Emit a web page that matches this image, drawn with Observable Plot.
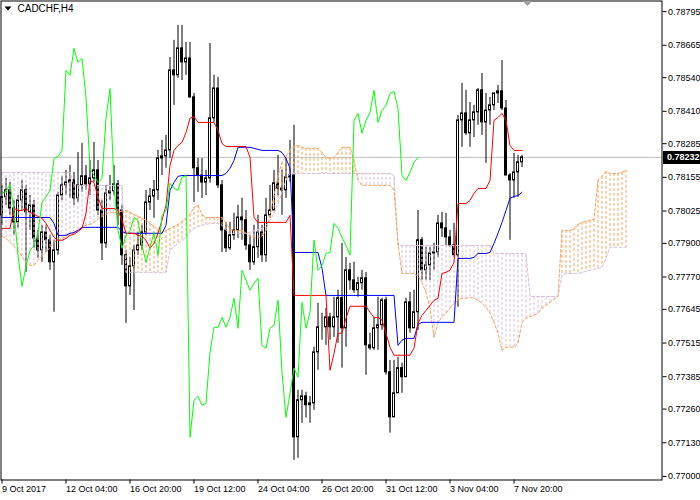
<!DOCTYPE html>
<html><head><meta charset="utf-8">
<script src="https://cdn.jsdelivr.net/npm/d3@7"></script>
<script src="https://cdn.jsdelivr.net/npm/@observablehq/plot@0.6"></script>
<style>
html,body{margin:0;padding:0;background:#fff;}
#chart{width:700px;height:500px;}
</style></head><body><div id="chart"></div>
<script>
// ---- data (prices in points, 1 point = 0.00001) ----
const symbolTitle = "CADCHF,H4";
const dateLabels = ["9 Oct 2017","12 Oct 04:00","16 Oct 20:00","19 Oct 12:00","24 Oct 04:00","26 Oct 20:00","31 Oct 12:00","3 Nov 04:00","7 Nov 20:00"];
const dateLabelBars = [0,16,32,48,64,80,96,112,128];
const priceTicks = [0.78795,0.78665,0.78540,0.78410,0.78285,0.78155,0.78025,0.77900,0.77770,0.77645,0.77515,0.77385,0.77260,0.77130,0.77000];
const ichimokuShift = 26;

const openPts = [78008,78078,78105,78035,77981,78066,78105,78020,78047,77919,77873,77942,77912,77827,77873,78085,78124,78135,78143,78074,78124,78159,78128,78151,78182,78027,77900,78093,78101,78128,78027,77854,77734,77811,77873,77892,77942,78058,78081,78105,78228,78236,78259,78568,78549,78653,78599,78614,78464,78190,78162,78135,78151,78383,78498,78124,77950,77881,77931,77950,78000,77989,77892,77827,77885,77942,77854,78008,78027,78132,78112,78105,78155,78162,77151,77294,77309,77275,77282,77479,77576,77576,77614,77576,77614,77688,77572,77796,77757,77719,77746,77765,77506,77495,77572,77584,77680,77402,77228,77321,77418,77383,77672,77572,77634,77912,77796,77815,77861,77865,77977,77958,77923,77892,77854,78375,78402,78325,78375,78406,78491,78367,78413,78433,78479,78487,78421,78162,78143,78174,78213];
const closePts = [78078,78105,78035,77981,78066,78105,78020,78047,77919,77873,77942,77912,77827,77873,78085,78124,78135,78143,78074,78124,78159,78128,78151,78182,78027,77900,78093,78101,78128,78027,77854,77734,77811,77873,77892,77942,78058,78081,78105,78228,78236,78259,78568,78549,78653,78599,78614,78464,78190,78162,78135,78151,78383,78498,78124,77950,77881,77931,77950,78000,77989,77892,77827,77885,77942,77854,78008,78027,78132,78112,78105,78155,78162,77151,77294,77309,77275,77282,77479,77576,77576,77614,77576,77614,77688,77572,77796,77757,77719,77746,77765,77506,77495,77572,77584,77680,77402,77228,77321,77418,77383,77672,77572,77634,77912,77796,77815,77861,77865,77977,77958,77923,77892,77854,78375,78402,78325,78375,78406,78491,78367,78413,78433,78479,78487,78421,78162,78143,78174,78213,78232];
const highPts = [78124,78151,78135,78066,78085,78143,78124,78085,78066,77950,77970,77970,77931,77912,78097,78159,78182,78201,78174,78251,78286,78201,78220,78290,78220,78066,78124,78162,78201,78143,78047,77873,77846,77892,77942,77970,78105,78112,78143,78259,78298,78317,78618,78684,78742,78742,78676,78676,78479,78228,78228,78182,78672,78549,78541,78143,77981,77981,78016,78047,78074,78027,77931,77970,78008,77970,78074,78124,78182,78240,78182,78228,78298,78356,77333,77333,77325,77309,77499,77668,77630,77649,77630,77692,77719,77900,77846,77823,77827,77769,77796,77788,77553,77614,77692,77688,77692,77448,77448,77460,77437,77688,77711,77719,78027,77923,77885,77885,77900,78008,78020,78016,77950,77977,78394,78518,78491,78444,78433,78498,78556,78479,78464,78479,78510,78606,78452,78170,78247,78240,78240];
const lowPts = [77970,78047,78008,77931,77958,78027,77788,77950,77881,77842,77827,77865,77796,77634,77854,78066,78085,78074,78047,78058,78097,78105,78085,78135,78008,77834,77881,78066,78085,77970,77815,77591,77699,77641,77854,77873,77931,78027,77997,78066,78162,78190,78228,78433,78537,78529,78549,78460,78058,78097,78074,78085,78132,78367,78112,77865,77865,77873,77912,77919,77912,77873,77796,77815,77842,77827,77827,77997,78097,78085,78008,78074,78135,77062,77070,77205,77225,77205,77255,77410,77526,77506,77526,77537,77514,77418,77499,77719,77707,77692,77719,77391,77487,77487,77487,77564,77391,77167,77228,77321,77321,77391,77553,77576,77564,77757,77757,77757,77796,77846,77923,77892,77885,77846,77653,78271,78317,78271,78309,78356,78317,78209,78356,78413,78440,78413,78162,77912,78074,78078,78193];

const tenkanPts = [77958,77958,77958,78035,78027,78027,78035,78020,78012,78004,77997,77977,77950,77923,77912,77912,77919,77931,77935,77946,77958,78016,78143,78135,78078,78035,78035,78035,78035,78027,77989,77939,77939,77939,77931,77927,77912,77881,77900,77939,77989,78047,78201,78259,78278,78290,78328,78383,78390,78367,78367,78367,78367,78367,78336,78286,78274,78274,78274,78274,78274,78274,78232,78000,77981,77981,77981,77981,77981,77981,77981,77981,78008,77699,77699,77699,77699,77699,77699,77699,77699,77699,77410,77475,77553,77553,77611,77657,77657,77657,77657,77657,77634,77614,77614,77603,77553,77499,77468,77468,77468,77468,77468,77495,77591,77622,77641,77661,77680,77688,77784,77788,77796,77827,78054,78054,78054,78066,78093,78112,78112,78112,78143,78375,78386,78402,78375,78278,78259,78259,78259];
const kijunPts = [78000,78000,78000,78000,78000,78000,78000,78000,78000,78000,78000,78000,78000,77977,77931,77931,77931,77939,77942,77950,77962,77962,77962,77962,77962,77962,77962,77962,77962,77962,77946,77939,77939,77939,77939,77939,77939,77939,77939,77939,77939,77970,78105,78135,78159,78162,78162,78162,78162,78162,78162,78162,78162,78162,78162,78162,78170,78190,78220,78271,78271,78271,78271,78267,78263,78259,78259,78259,78259,78259,78251,78228,78190,77865,77865,77865,77865,77865,77865,77865,77804,77699,77699,77699,77699,77699,77699,77699,77699,77699,77699,77699,77699,77699,77699,77699,77699,77699,77699,77506,77526,77533,77533,77533,77587,77595,77595,77595,77595,77595,77595,77595,77595,77595,77842,77842,77842,77842,77846,77861,77861,77861,77865,77900,77939,77981,78027,78074,78081,78085,78097];
const spanAPts = [77927,77919,77904,77888,77873,77850,77823,77815,77815,77834,77850,77865,77885,77904,77912,77919,77927,77935,77939,77954,77962,77970,77973,77981,77993,78004,78012,78020,78020,78020,78024,78027,78020,78012,78004,77997,77989,77977,77966,77950,77942,77950,77958,77966,77973,77985,77997,78012,78039,78047,78012,78000,78000,78000,78000,78000,77981,77954,77950,77950,77950,77939,77927,77923,77919,77927,77950,78008,78085,78162,78213,78236,78259,78274,78278,78271,78267,78267,78267,78267,78251,78232,78228,78232,78251,78271,78271,78271,78220,78143,78124,78124,78124,78124,78124,78124,78124,78124,78105,77900,77784,77784,77784,77784,77773,77749,77711,77649,77537,77591,77618,77630,77649,77668,77680,77688,77688,77692,77688,77680,77668,77653,77630,77595,77553,77487,77499,77499,77499,77514,77595,77611,77618,77622,77630,77649,77661,77672,77684,77695,77950,77950,77950,77958,77973,77981,77985,77989,77993,78143,78159,78178,78170,78170,78170,78174,78182];
const spanBPts = [78174,78174,78174,78174,78174,78174,78174,78174,78174,78174,78174,78174,78174,78174,78174,78174,78174,78174,78124,78124,78124,78124,78124,78124,78124,78124,78124,78124,78124,78124,78124,77788,77788,77788,77788,77788,77788,77788,77788,77788,77788,77788,77873,77888,77900,77912,77923,77942,77958,77966,77970,77973,77977,77977,77977,77970,77950,77939,77939,77939,77939,77939,77942,77950,77954,77958,77970,77989,78016,78054,78097,78143,78170,78170,78170,78170,78170,78170,78170,78170,78170,78170,78170,78170,78170,78170,78170,78170,78170,78170,78170,78170,78170,78170,78170,78170,78170,78170,78162,77892,77892,77892,77892,77892,77892,77892,77892,77892,77892,77892,77892,77892,77892,77892,77892,77892,77892,77892,77892,77892,77892,77892,77892,77861,77861,77861,77861,77861,77861,77861,77861,77861,77695,77695,77695,77695,77695,77695,77695,77695,77777,77784,77784,77784,77784,77788,77792,77796,77800,77804,77807,77842,77885,77885,77885,77885,77885];

// ---- build tables ----
const PT = 1e-5;
const bars = openPts.map((op, i) => {
  const o = op * PT, c = closePts[i] * PT;
  return {i, o, c, h: Math.max(highPts[i] * PT, o, c), l: Math.min(lowPts[i] * PT, o, c), up: c >= o};
});
const lines = tenkanPts.map((t, i) => ({i, t: t * PT, k: kijunPts[i] * PT}));
const cloud = spanAPts.map((a, i) => ({i, a: a * PT, b: spanBPts[i] * PT}));
const chikou = closePts.slice(ichimokuShift).map((c, j) => ({i: j, v: c * PT}));
const lastClose = closePts[closePts.length - 1] * PT;

const SANDY = "#f4a460", THISTLE = "#d8bfd8";
const FONT = "'Liberation Sans', Arial, sans-serif";

const plot = Plot.plot({
  width: 700, height: 500,
  marginLeft: 0.5, marginRight: 38.5, marginTop: 0.5, marginBottom: 20.5,
  style: {fontFamily: FONT, fontSize: "9px", background: "#fff", color: "#000"},
  x: {domain: [0, 165], range: [1.5, 661.5], label: null},
  y: {domain: [0.76988, 0.78838], range: [479, 0], label: null},
  marks: [
    Plot.ruleY([lastClose], {stroke: "#c0c0c0", strokeWidth: 1}),
    Plot.ruleX(bars, {x: "i", y1: "l", y2: "h", stroke: "#000", strokeWidth: 1}),
    Plot.rect(bars.filter(d => d.up), {x1: d => d.i - 0.25, x2: d => d.i + 0.25, y1: "o", y2: "c", fill: "#fff", stroke: "#000", strokeWidth: 1}),
    Plot.rect(bars.filter(d => !d.up), {x1: d => d.i - 0.25, x2: d => d.i + 0.25, y1: "o", y2: "c", fill: "#000", stroke: "#000", strokeWidth: 1}),
    Plot.ruleX(cloud.filter(d => d.a > d.b), {x: "i", y1: "a", y2: "b", stroke: SANDY, strokeWidth: 1, strokeDasharray: "3,2"}),
    Plot.ruleX(cloud.filter(d => d.a <= d.b), {x: "i", y1: "a", y2: "b", stroke: THISTLE, strokeWidth: 1, strokeDasharray: "3,2"}),
    Plot.line(cloud, {x: "i", y: "b", stroke: THISTLE, strokeWidth: 1, strokeDasharray: "3,2"}),
    Plot.line(cloud, {x: "i", y: "a", stroke: SANDY, strokeWidth: 1, strokeDasharray: "3,2"}),
    Plot.line(lines, {x: "i", y: "k", stroke: "#0000ff", strokeWidth: 1}),
    Plot.line(lines, {x: "i", y: "t", stroke: "#ff0000", strokeWidth: 1}),
    Plot.line(chikou, {x: "i", y: "v", stroke: "#00ff00", strokeWidth: 1}),
    Plot.frame({stroke: "#000", strokeWidth: 1}),
    Plot.axisY(priceTicks, {anchor: "right", tickSize: 4, tickPadding: 2, tickFormat: d => d.toFixed(5), label: null}),
    Plot.axisX(dateLabelBars, {anchor: "bottom", tickSize: 4, tickPadding: 2, textAnchor: "start",
      tickFormat: d => dateLabels[dateLabelBars.indexOf(d)], label: null}),
    Plot.text([symbolTitle], {frameAnchor: "top-left", dx: 16.5, dy: 3.5, textAnchor: "start", lineAnchor: "top", fontSize: 10, fill: "#000"})
  ]
});
document.getElementById("chart").appendChild(plot);

// decorations positioned through the plot's scales
const svg = d3.select(plot);
const xs = plot.scale("x"), ys = plot.scale("y");
const yl = ys.apply(lastClose);
svg.append("rect").attr("x", 663).attr("y", Math.round(yl) - 6).attr("width", 37).attr("height", 13).attr("fill", "#000");
svg.append("text").attr("x", 667).attr("y", yl).attr("dy", "0.35em").attr("fill", "#fff")
  .attr("text-anchor", "start").style("text-anchor", "start")
  .attr("font-family", FONT).attr("font-size", 9).attr("font-weight", "bold").text(lastClose.toFixed(5));
const xShift = xs.apply(closePts.length + 0.5);
svg.append("path").attr("d", `M${xShift - 5},1L${xShift + 5},1L${xShift},6Z`).attr("fill", "#a0a0a0");
svg.append("path").attr("d", "M4.5,6.5L11.5,6.5L8,10.5Z").attr("fill", "#000");
</script>
</body></html>
